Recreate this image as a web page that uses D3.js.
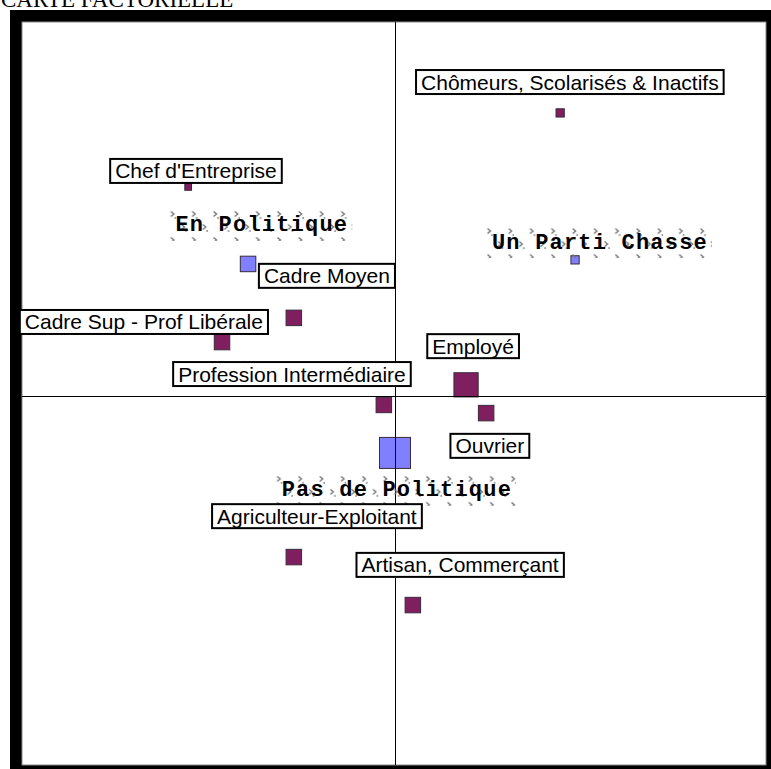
<!DOCTYPE html>
<html>
<head>
<meta charset="utf-8">
<script src="https://cdn.jsdelivr.net/npm/d3@7"></script>
<style>
  html, body { margin: 0; padding: 0; background: #fff; }
  svg { display: block; }
</style>
</head>
<body>
<svg id="chart" width="771" height="769"></svg>
<script>
// ---- Data ----
// Points (modalities): factorial coordinates on axes 1 and 2, and weight
const pointNames = ["Chômeurs, Scolarisés & Inactifs", "Chef d'Entreprise", "Un Parti Chasse", "En Politique",
  "Cadre Moyen", "Cadre Sup - Prof Libérale", "Employé", "Profession Intermédiaire", "Ouvrier",
  "Pas de Politique", "Agriculteur-Exploitant", "Artisan, Commerçant"];
const pointGroup = ["cat", "cat", "vote", "vote", "cat", "cat", "cat", "cat", "cat", "vote", "cat", "cat"];
const axis1 = [0.444, -0.556, 0.484, -0.395, -0.272, -0.465, 0.191, -0.030, 0.245, 0.000, -0.272, 0.048];
const axis2 = [0.761, 0.562, 0.366, 0.355, 0.210, 0.145, 0.030, -0.024, -0.046, -0.153, -0.433, -0.562];
const weights = [0.64, 0.42, 0.64, 2.25, 2.25, 2.25, 5.5, 2.25, 2.25, 9.0, 2.25, 2.25];

// Labels: placement coordinates on the same axes
const labelAxis1 = [0.470, -0.535, 0.551, -0.358, -0.183, -0.675, 0.210, -0.277, 0.255, 0.005, -0.210, 0.175];
const labelAxis2 = [0.844, 0.605, 0.411, 0.457, 0.323, 0.199, 0.134, 0.059, -0.134, -0.255, -0.323, -0.454];

const title = "CARTE FACTORIELLE";

// ---- Drawing ----
const svg = d3.select("#chart");

// Title (partly cut off at the top, as in the original)
svg.append("text")
  .attr("x", 1).attr("y", 7)
  .attr("font-family", "'Liberation Serif', 'Times New Roman', serif")
  .attr("font-size", 23)
  .attr("fill", "#000")
  .text(title);

// Frame: black shadow + white panel
svg.append("rect").attr("x", 10).attr("y", 10).attr("width", 761).attr("height", 759).attr("fill", "#000");
svg.append("rect").attr("x", 22).attr("y", 22).attr("width", 744).attr("height", 743)
  .attr("fill", "#fff").attr("stroke", "#888").attr("stroke-width", 1);

const x = d3.scaleLinear().domain([-1, 1]).range([23, 767]);
const y = d3.scaleLinear().domain([-1, 1]).range([768, 24]);
const side = d3.scaleSqrt().domain([0, 9]).range([0, 31]);

const colors = { cat: "#801f60", vote: "#8080ff" };

const data = pointNames.map((n, i) => ({
  name: n, group: pointGroup[i], a1: axis1[i], a2: axis2[i], w: weights[i],
  l1: labelAxis1[i], l2: labelAxis2[i]
}));

// Squares
svg.append("g").selectAll("rect").data(data).join("rect")
  .attr("x", d => x(d.a1) - side(d.w) / 2)
  .attr("y", d => y(d.a2) - side(d.w) / 2)
  .attr("width", d => side(d.w))
  .attr("height", d => side(d.w))
  .attr("fill", d => colors[d.group])
  .attr("stroke", "#3a2a3a")
  .attr("stroke-width", 1);

// Axes through origin
const axG = svg.append("g");
axG.append("line").attr("x1", x(0)).attr("x2", x(0)).attr("y1", 22).attr("y2", 765)
  .attr("stroke", "#000").attr("stroke-width", 1).attr("shape-rendering", "crispEdges");
axG.append("line").attr("x1", 22).attr("x2", 766).attr("y1", y(0)).attr("y2", y(0))
  .attr("stroke", "#000").attr("stroke-width", 1).attr("shape-rendering", "crispEdges");

// Labels
const defs = svg.append("defs");
const labG = svg.append("g");
data.forEach((d, i) => {
  const cx = x(d.l1), cy = y(d.l2);
  const g = labG.append("g");
  if (d.group === "vote") {
    const t = g.append("text")
      .attr("x", cx).attr("y", cy)
      .attr("text-anchor", "middle").attr("dominant-baseline", "central")
      .attr("font-family", "'Liberation Mono', 'Courier New', monospace")
      .attr("font-weight", "bold").attr("font-size", 22)
      .attr("letter-spacing", 1.2)
      .attr("fill", "#000")
      .text(d.name);
    const bb = t.node().getBBox();
    const bx = bb.x - 6, by = cy - 15, bw = bb.width + 10, bh = 30;
    const pid = "hatch" + i;
    const p = defs.append("pattern").attr("id", pid)
      .attr("patternUnits", "userSpaceOnUse")
      .attr("x", bx).attr("y", by).attr("width", 21.3).attr("height", 26);
    const mark = (mx, my) => {
      p.append("path").attr("d", `M${mx - 1.5},${my - 2.5} L${mx + 1.5},${my} L${mx - 1.5},${my + 2.5}`)
        .attr("fill", "none").attr("stroke", "#777").attr("stroke-width", 1.4);
      p.append("circle").attr("cx", mx + 3).attr("cy", my + 4).attr("r", 0.9).attr("fill", "#888");
    };
    mark(3, 3); mark(13.6, 16);
    g.insert("rect", "text").attr("x", bx).attr("y", by).attr("width", bw).attr("height", bh)
      .attr("fill", `url(#${pid})`);
  } else {
    const t = g.append("text")
      .attr("x", cx).attr("y", cy)
      .attr("text-anchor", "middle").attr("dominant-baseline", "central")
      .attr("font-family", "'Liberation Sans', Arial, sans-serif")
      .attr("font-size", 21)
      .attr("fill", "#000")
      .text(d.name);
    const bb = t.node().getBBox();
    g.insert("rect", "text")
      .attr("x", bb.x - 5).attr("y", bb.y - 0.5)
      .attr("width", bb.width + 10).attr("height", bb.height + 1)
      .attr("fill", "#fff").attr("stroke", "#000").attr("stroke-width", 2);
  }
});
</script>
</body>
</html>
